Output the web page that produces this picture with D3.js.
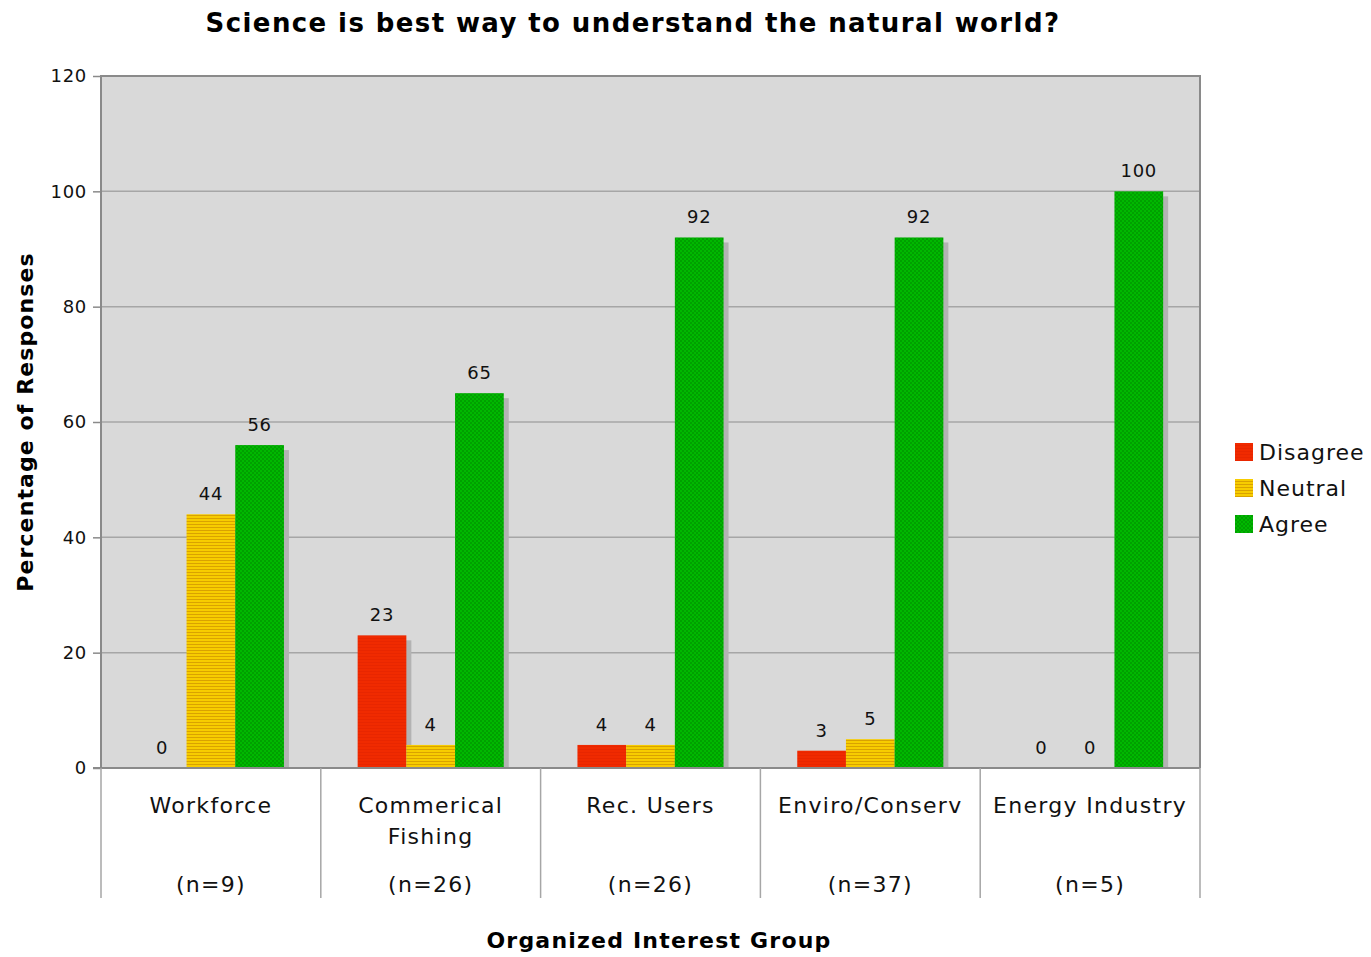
<!DOCTYPE html>
<html>
<head>
<meta charset="utf-8">
<script src="https://cdn.jsdelivr.net/npm/d3@7"></script>
<style>
  html, body { margin: 0; padding: 0; background: #fff; }
  svg { display: block; font-family: "DejaVu Sans", Verdana, sans-serif; }
</style>
</head>
<body>
<svg id="chart" width="1371" height="957"></svg>
<script>
// Survey responses by organized interest group (percent)
const groups = ["Workforce", "Commerical Fishing", "Rec. Users", "Enviro/Conserv", "Energy Industry"];
const groupLines = [["Workforce"], ["Commerical", "Fishing"], ["Rec. Users"], ["Enviro/Conserv"], ["Energy Industry"]];
const sampleSizes = ["(n=9)", "(n=26)", "(n=26)", "(n=37)", "(n=5)"];
const seriesNames = ["Disagree", "Neutral", "Agree"];
const disagree = [0, 23, 4, 3, 0];
const neutral = [44, 4, 4, 5, 0];
const agree = [56, 65, 92, 92, 100];
const yTicks = [0, 20, 40, 60, 80, 100, 120];

const seriesValues = [disagree, neutral, agree];

const svg = d3.select("#chart");
const plotL = 101, plotR = 1200, plotT = 76, plotB = 768;

const x0 = d3.scaleBand().domain(groups).range([plotL, plotR]).padding(0);
const bandW = x0.bandwidth();
const barW = 48.7;
const innerPad = (bandW - 3 * barW) / 2;
const x1 = d3.scaleBand().domain(seriesNames).range([innerPad, innerPad + 3 * barW]).padding(0);
const y = d3.scaleLinear().domain([0, 120]).range([plotB, plotT]);

// Fill patterns
const defs = svg.append("defs");
const pRed = defs.append("pattern").attr("id", "pRed").attr("patternUnits", "userSpaceOnUse")
  .attr("width", 4).attr("height", 3);
pRed.append("rect").attr("width", 4).attr("height", 3).attr("fill", "#f02a00");
pRed.append("rect").attr("y", 2).attr("width", 4).attr("height", 1).attr("fill", "#e82600");

const pYel = defs.append("pattern").attr("id", "pYel").attr("patternUnits", "userSpaceOnUse")
  .attr("width", 4).attr("height", 3);
pYel.append("rect").attr("width", 4).attr("height", 3).attr("fill", "#f7cc00");
pYel.append("rect").attr("y", 2).attr("width", 4).attr("height", 1).attr("fill", "#d9a200");

const pGrn = defs.append("pattern").attr("id", "pGrn").attr("patternUnits", "userSpaceOnUse")
  .attr("width", 4).attr("height", 4);
pGrn.append("rect").attr("width", 4).attr("height", 4).attr("fill", "#00b800");
pGrn.append("rect").attr("x", 0).attr("y", 0).attr("width", 2).attr("height", 2).attr("fill", "#00a000");
pGrn.append("rect").attr("x", 2).attr("y", 2).attr("width", 2).attr("height", 2).attr("fill", "#00a000");

const fills = { Disagree: "url(#pRed)", Neutral: "url(#pYel)", Agree: "url(#pGrn)" };

// Plot background
svg.append("rect").attr("x", plotL).attr("y", plotT).attr("width", plotR - plotL).attr("height", plotB - plotT)
  .attr("fill", "#d9d9d9");

// Gridlines
svg.append("g").selectAll("line").data(yTicks.filter(t => t > 0 && t < 120)).join("line")
  .attr("x1", plotL).attr("x2", plotR)
  .attr("y1", d => y(d)).attr("y2", d => y(d))
  .attr("stroke", "#a6a6a6").attr("stroke-width", 1.5);

// Bars with drop shadow
const rows = [];
groups.forEach((g, gi) => {
  seriesNames.forEach((s, si) => rows.push({ g, s, v: seriesValues[si][gi] }));
});

const clip = defs.append("clipPath").attr("id", "plotClip");
clip.append("rect").attr("x", plotL).attr("y", plotT).attr("width", plotR - plotL).attr("height", plotB - plotT);

const barsG = svg.append("g").attr("clip-path", "url(#plotClip)");
barsG.selectAll("rect.shadow").data(rows.filter(d => d.v > 0)).join("rect")
  .attr("class", "shadow")
  .attr("x", d => x0(d.g) + x1(d.s) + 5)
  .attr("y", d => y(d.v) + 5)
  .attr("width", barW)
  .attr("height", d => Math.max(0, plotB - y(d.v) - 5))
  .attr("fill", "#b3b3b3");

barsG.selectAll("rect.bar").data(rows.filter(d => d.v > 0)).join("rect")
  .attr("class", "bar")
  .attr("x", d => x0(d.g) + x1(d.s))
  .attr("y", d => y(d.v))
  .attr("width", barW)
  .attr("height", d => plotB - y(d.v))
  .attr("fill", d => fills[d.s]);

// Plot frame (left, top, right)
svg.append("path")
  .attr("d", `M${plotL},${plotB}V${plotT}H${plotR}V${plotB}`)
  .attr("fill", "none").attr("stroke", "#8a8a8a").attr("stroke-width", 2);

// Y axis
const yAxis = d3.axisLeft(y).tickValues(yTicks).tickSize(8).tickPadding(6);
const yg = svg.append("g").attr("transform", `translate(${plotL},0)`).call(yAxis);
yg.select(".domain").remove();
yg.selectAll(".tick line").attr("stroke", "#8a8a8a").attr("stroke-width", 1.5);
yg.selectAll(".tick text").attr("font-size", 18).attr("letter-spacing", 0.7).attr("fill", "#111")
  .attr("font-family", "DejaVu Sans, sans-serif");

// Baseline and category separators
svg.append("line").attr("x1", plotL - 8).attr("x2", plotR).attr("y1", plotB).attr("y2", plotB)
  .attr("stroke", "#8a8a8a").attr("stroke-width", 2);
const seps = groups.map(g => x0(g)).concat([plotR]);
svg.append("g").selectAll("line").data(seps).join("line")
  .attr("x1", d => d).attr("x2", d => d)
  .attr("y1", plotB).attr("y2", 898)
  .attr("stroke", "#a6a6a6").attr("stroke-width", 1.5);

// Category labels
const catG = svg.append("g").attr("font-size", 22).attr("letter-spacing", 1.3)
  .attr("fill", "#111").attr("text-anchor", "middle");
groups.forEach((g, gi) => {
  const cx = x0(g) + bandW / 2;
  groupLines[gi].forEach((line, li) => {
    catG.append("text").attr("x", cx).attr("y", 813 + li * 31).text(line);
  });
  catG.append("text").attr("x", cx).attr("y", 892).text(sampleSizes[gi]);
});

// Value labels
svg.append("g").selectAll("text").data(rows).join("text")
  .attr("x", d => x0(d.g) + x1(d.s) + barW / 2)
  .attr("y", d => y(d.v) - 14)
  .attr("text-anchor", "middle")
  .attr("font-size", 18).attr("letter-spacing", 0.7).attr("fill", "#111")
  .text(d => d.v);

// Title and axis titles
svg.append("text").attr("x", 633).attr("y", 32).attr("text-anchor", "middle")
  .attr("font-size", 26).attr("letter-spacing", 1.4).attr("font-weight", "bold").attr("fill", "#000")
  .text("Science is best way to understand the natural world?");
svg.append("text").attr("x", 659).attr("y", 948).attr("text-anchor", "middle")
  .attr("font-size", 22).attr("letter-spacing", 1.2).attr("font-weight", "bold").attr("fill", "#000")
  .text("Organized Interest Group");
svg.append("text").attr("transform", "translate(33,422) rotate(-90)").attr("text-anchor", "middle")
  .attr("font-size", 22).attr("letter-spacing", 1.1).attr("font-weight", "bold").attr("fill", "#000")
  .text("Percentage of Responses");

// Legend
const legend = svg.append("g").attr("transform", "translate(1235,443)");
seriesNames.forEach((s, i) => {
  const row = legend.append("g").attr("transform", `translate(0,${i * 36})`);
  row.append("rect").attr("width", 18).attr("height", 18).attr("fill", fills[s]);
  row.append("text").attr("x", 24).attr("y", 17).attr("font-size", 22).attr("letter-spacing", 1)
    .attr("fill", "#111").text(s);
});
</script>
</body>
</html>
